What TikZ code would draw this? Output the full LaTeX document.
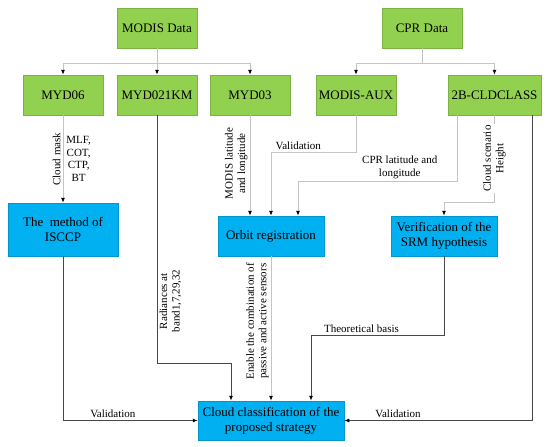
\documentclass[tikz,border=0pt]{standalone}
\usepackage{fontspec}
\setmainfont{Liberation Serif}
\usepackage{tikz}
\usetikzlibrary{
    arrows.meta,
    calc
}
\definecolor{datagreen}{HTML}{92D050}
\definecolor{procblue}{HTML}{00B0F0}
\definecolor{lightline}{HTML}{C4C4C4}
\definecolor{darkline}{HTML}{484848}

\begin{document}
\begin{tikzpicture}[x=1pt,y=-1pt,>={Latex[length=5pt,width=4pt,color=black]},line width=0.8pt]
    \tikzstyle{databox}=[draw=datagreen!85!black, line width=0.5pt, fill=datagreen, minimum width=80pt, minimum height=40pt, inner xsep=2pt, font=\fontsize{13}{15}\selectfont]
    \tikzstyle{procbox}=[draw=procblue!85!black, line width=0.5pt, fill=procblue, minimum width=106pt, minimum height=40pt, inner xsep=2pt, align=center, font=\fontsize{13}{15}\selectfont]
    \tikzstyle{light}=[->, draw=lightline]
    \tikzstyle{dark}=[->, draw=darkline, line width=0.9pt]
    \tikzstyle{lbl}=[font=\fontsize{11}{12.5}\selectfont, align=center, inner sep=2pt, text=black]
    \useasboundingbox (0,0) rectangle (550,447);
    % data sources
    \node[databox] (modis) at (157,28) {MODIS Data};
    \node[databox] (cpr) at (422,28) {CPR Data};
    \node[databox] (myd06) at (63,95) {MYD06};
    \node[databox] (myd021) at (157,95) {MYD021KM};
    \node[databox] (myd03) at (250,95) {MYD03};
    \node[databox] (aux) at (356,95) {MODIS-AUX};
    \node[databox, minimum width=93pt] (cld) at (494.5,95) {2B-CLDCLASS};
    % processing steps
    \node[procbox, minimum width=110pt, minimum height=53pt] (isccp) at (63,229.5) {The\ \ method of\\ISCCP};
    \node[procbox] (orbit) at (271,236) {Orbit registration};
    \node[procbox] (srm) at (444,236) {Verification of the\\SRM hypothesis};
    \node[procbox, minimum width=146pt, minimum height=39pt] (cloud) at (271,420.5) {Cloud classification of the\\proposed strategy};
    % split points
    \coordinate (msplit) at (157,63);
    \coordinate (csplit) at (422,63);
    \coordinate (v1) at (271,152);
    \coordinate (v2) at (298,181);
    \coordinate (v3) at (444,202);
    \coordinate (v4) at (311,335);
    \coordinate (r1) at (157,363);
    % modis branches
    \draw[light, -] (modis) -- (msplit);
    \draw[light] (msplit) -| (myd06);
    \draw[light] (msplit) -- (myd021);
    \draw[light] (msplit) -| (myd03);
    % cpr branches
    \draw[light, -] (cpr) -- (csplit);
    \draw[light] (csplit) -| (aux);
    \draw[light] (csplit) -| (cld);
    % towards the processing steps
    \path[light] (myd06) edge node[lbl, rotate=90, anchor=south] {Cloud mask} node[lbl, right, xshift=1pt] {MLF,\\COT,\\CTP,\\BT} (isccp);
    \draw[light] (myd03.south -| myd03) -- node[lbl, rotate=90, anchor=south, pos=0.48] {MODIS latitude\\and longitude} (myd03 |- orbit.north);
    \draw[light] (aux) |- node[lbl, above, pos=0.84] {Validation} (v1) -- (orbit);
    \draw[light] ([xshift=-37.5pt]cld.south) |- node[lbl, above, pos=0.68] {CPR latitude and\\longitude} (v2) -- (v2 |- orbit.north);
    \draw[light] (cld) -- node[lbl, rotate=90, fill=white, inner sep=1pt] {Cloud scenario\\Height} (cld |- v3) -| (srm);
    % towards the final strategy
    \draw[dark] (isccp) |- node[lbl, above, pos=0.685] {Validation} (cloud);
    \draw[dark] (myd021) -- node[lbl, rotate=90, anchor=north, pos=0.75] {Radiances at\\band1,7,29,32} (r1) -| ([xshift=-40pt]cloud.north);
    \draw[light] (orbit) -- node[lbl, rotate=90, anchor=south, pos=0.45] {Enable the combination of\\passive and active sensors} (cloud);
    \draw[dark] (srm) |- node[lbl, above, pos=0.81] {Theoretical basis} (v4) -- (v4 |- cloud.north);
    \draw[dark] ([xshift=37.5pt]cld.south) |- node[lbl, above, pos=0.857] {Validation} (cloud);
\end{tikzpicture}
\end{document}
